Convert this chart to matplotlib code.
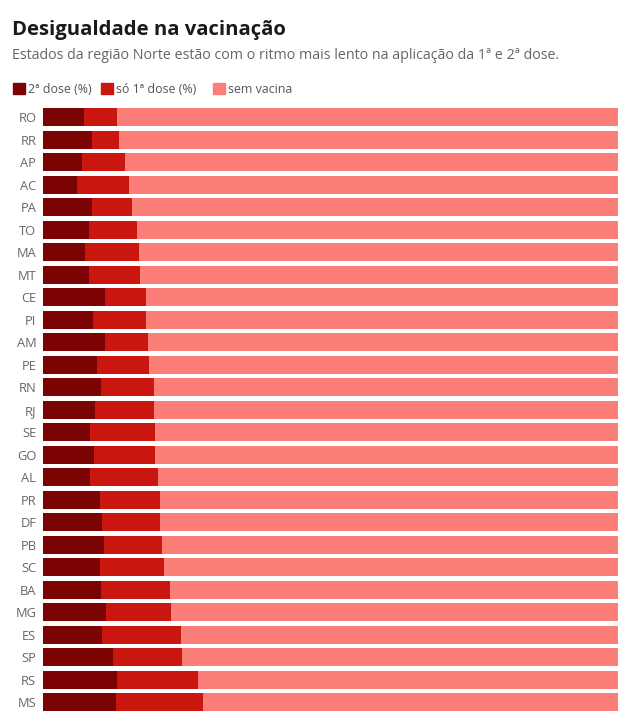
import numpy as np
import matplotlib
matplotlib.use('Agg')
import matplotlib.pyplot as plt
from matplotlib.patches import Rectangle

plt.rcParams['font.family'] = ['Open Sans', 'DejaVu Sans']

# states, top to bottom
states = ['RO', 'RR', 'AP', 'AC', 'PA', 'TO', 'MA', 'MT', 'CE', 'PI', 'AM', 'PE', 'RN', 'RJ',
          'SE', 'GO', 'AL', 'PR', 'DF', 'PB', 'SC', 'BA', 'MG', 'ES', 'SP', 'RS', 'MS']
# % with 2nd dose
dose2 = [7.1, 8.4, 6.8, 5.8, 8.4, 8.0, 7.3, 8.0, 10.7, 8.6, 10.7, 9.4, 10.0, 9.0,
         8.2, 8.9, 8.1, 9.9, 10.3, 10.5, 9.9, 10.0, 10.9, 10.2, 12.2, 12.8, 12.7]
# % with at least 1st dose (total)
dose1_total = [12.8, 13.1, 14.3, 15.0, 15.4, 16.3, 16.7, 16.9, 17.8, 17.8, 18.2, 18.4, 19.3, 19.3,
               19.5, 19.5, 20.0, 20.3, 20.3, 20.7, 21.1, 22.1, 22.3, 23.9, 24.2, 27.0, 27.8]

dose2 = np.array(dose2)
only1 = np.array(dose1_total) - dose2
sem = 100 - np.array(dose1_total)

c_dark = '#7b0303'
c_mid = '#c9170f'
c_light = '#fb7e78'

fig = plt.figure(figsize=(6.4, 7.25), dpi=100)
ax = fig.add_axes([43.3 / 640, 1 - 713.5 / 725, 574.4 / 640, (713.5 - 106.0) / 725])

y = np.arange(len(states))
h = 0.82
ax.barh(y, dose2, height=h, color=c_dark, linewidth=0)
ax.barh(y, only1, left=dose2, height=h, color=c_mid, linewidth=0)
ax.barh(y, sem, left=dose2 + only1, height=h, color=c_light, linewidth=0)

ax.set_xlim(0, 100)
ax.set_ylim(len(states) - 0.5, -0.5)
ax.set_yticks(y)
ax.set_yticklabels(states, fontsize=9.3, color='#666666')
ax.tick_params(axis='y', length=0, pad=5)
ax.set_xticks([])
for s in ax.spines.values():
    s.set_visible(False)

# title / subtitle
fig.text(12 / 640, 1 - 35 / 725, 'Desigualdade na vacinação', fontsize=14.6, fontweight='bold',
         color='#1a1a1a', va='baseline', ha='left')
fig.text(12 / 640, 1 - 59 / 725, 'Estados da região Norte estão com o ritmo mais lento na aplicação da 1ª e 2ª dose.',
         fontsize=10.25, color='#666666', va='baseline', ha='left')

# legend
leg = [('2ª dose (%)', c_dark, 13), ('só 1ª dose (%)', c_mid, 101), ('sem vacina', c_light, 213)]
for label, col, x in leg:
    fig.patches.append(Rectangle((x / 640, 1 - 94 / 725), 12 / 640, 11 / 725,
                                 transform=fig.transFigure, color=col, figure=fig))
    fig.text((x + 15) / 640, 1 - 93 / 725, label, fontsize=8.9, color='#555555',
             va='baseline', ha='left')

fig.savefig('out.png', dpi=100, facecolor='white')
